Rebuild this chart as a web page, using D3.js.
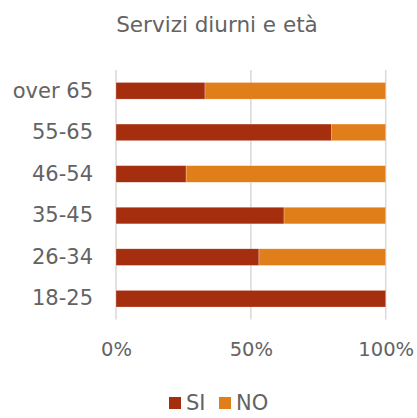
<!DOCTYPE html>
<html>
<head>
<meta charset="utf-8">
<script src="https://cdn.jsdelivr.net/npm/d3@7"></script>
<style>
  body { margin: 0; background: #fff; }
  text { font-family: "DejaVu Sans", sans-serif; fill: #636363; }
</style>
</head>
<body>
<svg width="417" height="418"></svg>
<script>
const categories = ["over 65", "55-65", "46-54", "35-45", "26-34", "18-25"];
const si = [0.33, 0.8, 0.26, 0.623, 0.53, 1.0];
const no = [0.67, 0.2, 0.74, 0.377, 0.47, 0.0];
const seriesNames = ["SI", "NO"];
const tickValues = [0, 0.5, 1];

const colors = { SI: "#a52e0f", NO: "#e07f1a" };

const svg = d3.select("svg");

const x = d3.scaleLinear().domain([0, 1]).range([116, 385.7]);
const y = d3.scaleBand().domain(categories).range([70, 319.5])
  .paddingInner(0.6).paddingOuter(0.3);

const rows = categories.map((c, i) => ({ cat: c, SI: si[i], NO: no[i] }));
const stacked = d3.stack().keys(seriesNames)(rows);

// gridlines
svg.append("g")
  .selectAll("line")
  .data(tickValues)
  .join("line")
  .attr("x1", (d) => x(d))
  .attr("x2", (d) => x(d))
  .attr("y1", 70)
  .attr("y2", 319.5)
  .attr("stroke", "#d9d9d9")
  .attr("stroke-width", 1.5);

// bars
svg.append("g")
  .selectAll("g")
  .data(stacked)
  .join("g")
  .attr("fill", (s) => colors[s.key])
  .selectAll("rect")
  .data((s) => s)
  .join("rect")
  .attr("x", (d) => x(d[0]))
  .attr("y", (d) => y(d.data.cat))
  .attr("width", (d) => x(d[1]) - x(d[0]))
  .attr("height", y.bandwidth())
  .attr("stroke", "#fff")
  .attr("stroke-opacity", 0.5)
  .attr("stroke-width", 0.5);

// y labels
const yAxis = svg.append("g")
  .attr("transform", "translate(116,0)")
  .call(d3.axisLeft(y).tickSize(0).tickPadding(23));
yAxis.select(".domain").remove();
yAxis.selectAll("text")
  .attr("font-size", 21)
  .attr("font-family", null)
  .attr("fill", null);

// x labels
const xAxis = svg.append("g")
  .attr("transform", "translate(0,319.5)")
  .call(d3.axisBottom(x).tickValues(tickValues).tickFormat(d3.format(".0%")).tickSize(0).tickPadding(23));
xAxis.select(".domain").remove();
xAxis.selectAll("text")
  .attr("font-size", 19.5)
  .attr("font-family", null)
  .attr("fill", null);

// title
svg.append("text")
  .attr("x", 217)
  .attr("y", 32)
  .attr("text-anchor", "middle")
  .attr("font-size", 21.5)
  .text("Servizi diurni e età");

// legend
const legendX = [169, 219];
const legend = svg.append("g")
  .selectAll("g")
  .data(seriesNames)
  .join("g")
  .attr("transform", (d, i) => `translate(${legendX[i]},397)`);
legend.append("rect")
  .attr("width", 12)
  .attr("height", 12)
  .attr("fill", (d) => colors[d]);
legend.append("text")
  .attr("x", 17)
  .attr("y", 13)
  .attr("font-size", 21)
  .text((d) => d);
</script>
</body>
</html>
